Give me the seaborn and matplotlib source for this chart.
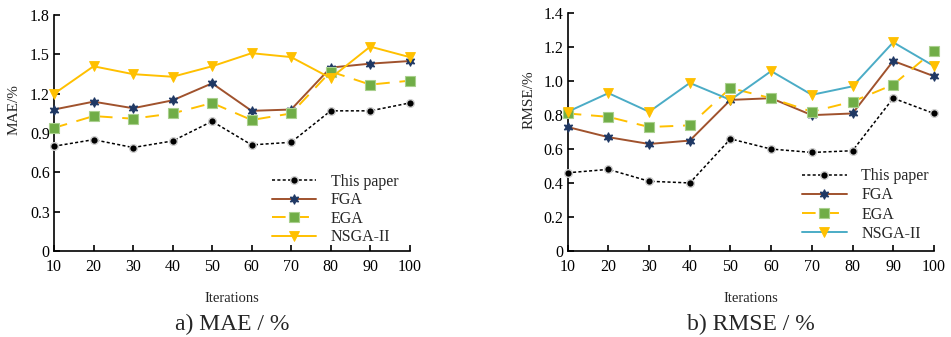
import numpy as np
import pandas as pd
import seaborn as sns
import matplotlib.pyplot as plt
from matplotlib.ticker import FixedLocator, FuncFormatter

iterations = [10, 20, 30, 40, 50, 60, 70, 80, 90, 100]
series_names = ['This paper', 'FGA', 'EGA', 'NSGA-II']

mae_this = [0.80, 0.85, 0.79, 0.84, 0.99, 0.81, 0.83, 1.07, 1.07, 1.13]
mae_fga = [1.08, 1.14, 1.09, 1.15, 1.28, 1.07, 1.08, 1.40, 1.43, 1.45]
mae_ega = [0.94, 1.03, 1.01, 1.05, 1.13, 1.00, 1.05, 1.37, 1.27, 1.30]
mae_nsga = [1.20, 1.41, 1.35, 1.33, 1.41, 1.51, 1.48, 1.32, 1.56, 1.48]

rmse_this = [0.46, 0.48, 0.41, 0.40, 0.66, 0.60, 0.58, 0.59, 0.90, 0.81]
rmse_fga = [0.73, 0.67, 0.63, 0.65, 0.89, 0.90, 0.80, 0.81, 1.12, 1.03]
rmse_ega = [0.81, 0.79, 0.73, 0.74, 0.96, 0.90, 0.82, 0.88, 0.98, 1.18]
rmse_nsga = [0.82, 0.93, 0.82, 0.99, 0.89, 1.06, 0.92, 0.97, 1.23, 1.09]

sns.set_theme(style='ticks')
plt.rcParams['font.family'] = ['Liberation Serif', 'DejaVu Serif']
plt.rcParams['axes.linewidth'] = 1.2

fig = plt.figure(figsize=(9.51, 3.37), dpi=100)
ax1 = fig.add_axes([0.0568, 0.255, 0.374, 0.700])
ax2 = fig.add_axes([0.597, 0.256, 0.385, 0.704])


def styles(nsga_line):
    return [
        dict(color='black', linestyle=(0, (2, 1.5)), linewidth=1.1, marker='o', markersize=5.5,
             markerfacecolor='black', markeredgecolor='#d0d0d0', markeredgewidth=1.0),
        dict(color='#A0522D', linestyle='-', linewidth=1.4, marker=(6, 1, 0), markersize=7,
             markerfacecolor='#1F3864', markeredgecolor='#1F3864', markeredgewidth=0.8),
        dict(color='#FFC000', linestyle=(0, (7, 5)), linewidth=1.4, marker='s', markersize=6.5,
             markerfacecolor='#70AD47', markeredgecolor='#A9D08E', markeredgewidth=0.8),
        dict(color=nsga_line, linestyle='-', linewidth=1.4, marker='v', markersize=7,
             markerfacecolor='#FFC000', markeredgecolor='#FFC000', markeredgewidth=0.6),
    ]


def draw(ax, values, nsga_line, ymax, ystep, ylabel, title, legend_anchor, ylabel_xy, spacing):
    for name, vals, st in zip(series_names, values, styles(nsga_line)):
        sns.lineplot(x=iterations, y=vals, ax=ax, label=name, clip_on=False, zorder=3, **st)
    ax.set_xlim(10, 100)
    ax.set_ylim(0, ymax)
    ax.xaxis.set_major_locator(FixedLocator(iterations))
    ax.yaxis.set_major_locator(FixedLocator(np.arange(0, ymax + 1e-9, ystep)))
    ax.yaxis.set_major_formatter(FuncFormatter(lambda v, p: '0' if abs(v) < 1e-9 else '{:.1f}'.format(v)))
    ax.tick_params(direction='in', length=4, width=1.2, labelsize=11.5, colors='black')
    ax.tick_params(axis='x', pad=6)
    ax.tick_params(axis='y', pad=3)
    for s in ['top', 'right']:
        ax.spines[s].set_visible(False)
    for s in ['left', 'bottom']:
        ax.spines[s].set_color('black')
    ax.set_xlabel('Iterations', fontsize=10.5, labelpad=12)
    ax.set_ylabel(ylabel, fontsize=11)
    ax.yaxis.set_label_coords(*ylabel_xy)
    ax.legend(loc='upper left', bbox_to_anchor=legend_anchor, frameon=False, fontsize=11.5,
              handlelength=2.8, handletextpad=0.9, labelspacing=spacing, borderpad=0, borderaxespad=0)
    ax.text(0.5, -0.31, title, transform=ax.transAxes, ha='center', va='center', fontsize=17)


draw(ax1, [mae_this, mae_fga, mae_ega, mae_nsga], '#FFC000', 1.8, 0.3, 'MAE/%',
     'a) MAE / %', (0.612, 0.328), (-0.095, 0.60), 0.16)
draw(ax2, [rmse_this, rmse_fga, rmse_ega, rmse_nsga], '#4BACC6', 1.4, 0.2, 'RMSE/%',
     'b) RMSE / %', (0.64, 0.348), (-0.087, 0.635), 0.2)

fig.savefig('out.png', dpi=100)
